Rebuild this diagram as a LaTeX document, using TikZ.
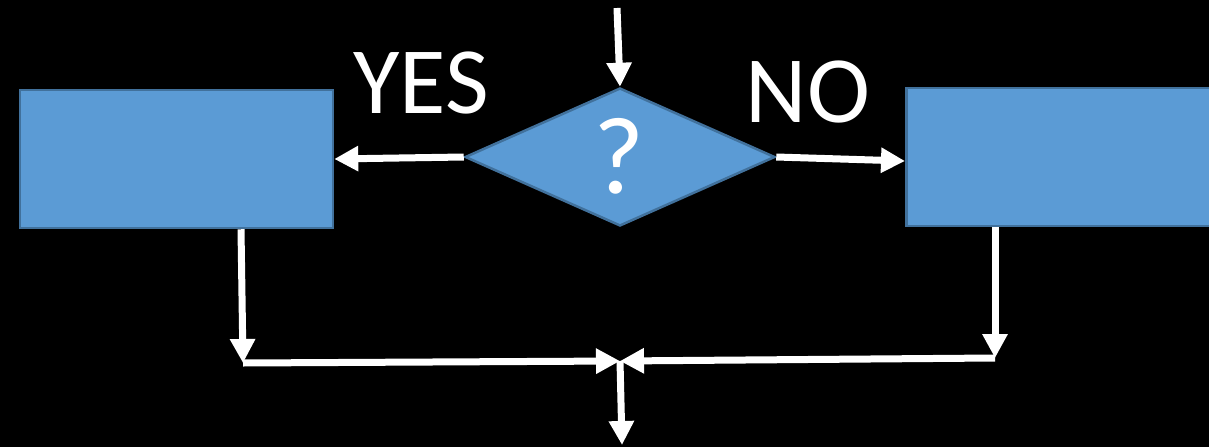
\documentclass[tikz,border=0pt]{standalone}
\usepackage{fontspec}
\setmainfont{Carlito}
\usepackage{tikz}
\usetikzlibrary{shapes.geometric,arrows.meta}
\definecolor{boxfill}{HTML}{5B9BD5}
\definecolor{boxline}{HTML}{41719C}
\begin{document}
\begin{tikzpicture}[x=1pt,y=-1pt,
  blk/.style={fill=boxfill,draw=boxline,line width=2.5pt,rectangle,inner sep=0pt},
  arr/.style={white,line width=7pt,-{Triangle[length=24pt,width=24pt]}},
  lbl/.style={white,anchor=base,inner sep=0pt,font=\fontsize{95}{95}\selectfont}]
\fill[black] (0,0) rectangle (1209,447);
\useasboundingbox (0,0) rectangle (1209,447);
\node[blk,minimum width=313pt,minimum height=138pt] (yes) at (176.5,159) {};
\node[blk,minimum width=315pt,minimum height=138pt,anchor=west] (no) at (905,157) {};
\node[diamond,fill=boxfill,draw=boxline,line width=2.5pt,inner sep=0pt,minimum width=310pt,minimum height=138pt] (q) at (620,157) {};
\node[lbl,font=\fontsize{110}{110}\selectfont] (qm) at (619,193) {?};
\node[lbl] (ytxt) at (421,113) {YES};
\node[lbl] (ntxt) at (808,122) {NO};
\coordinate (in) at (617,8);
\coordinate (jl) at (243,363);
\coordinate (jr) at (995,358);
\coordinate (m) at (620,361);
\coordinate (out) at (622,445);
\draw[arr] (in) -- (q.north);
\draw[arr] (q.west) -- (yes.east);
\draw[arr] (q.east) -- ([yshift=-4pt]no.west);
\draw[arr] (yes.south -| 241,0) -- (jl);
\draw[arr] (no.south -| 995,0) -- (jr);
\draw[arr] (jl) -- (m);
\draw[arr] (jr) -- (m);
\draw[arr] (m) -- (out);
\end{tikzpicture}
\end{document}
